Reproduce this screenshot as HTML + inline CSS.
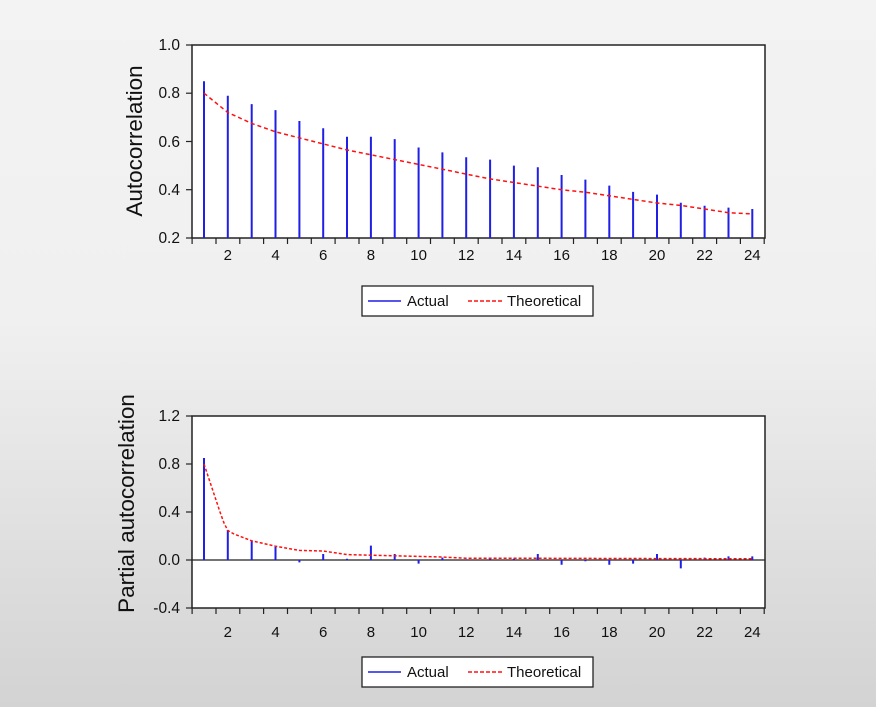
<!DOCTYPE html>
<html><head><style>
html,body{margin:0;padding:0;background:#fff;}
svg{display:block;}
text{font-family:"Liberation Sans",Arial,sans-serif;fill:#111;}
</style></head><body>
<svg width="885" height="718" viewBox="0 0 885 718" xmlns="http://www.w3.org/2000/svg">
<defs>
<linearGradient id="bg" x1="0" y1="0" x2="0" y2="1">
<stop offset="0" stop-color="#f3f3f3"/>
<stop offset="0.45" stop-color="#f0f0f0"/>
<stop offset="1" stop-color="#d3d3d3"/>
</linearGradient>
</defs>
<rect x="0" y="0" width="876" height="707" fill="url(#bg)"/>

<!-- TOP CHART -->
<rect x="192" y="45" width="573" height="193" fill="#fff" stroke="#222" stroke-width="1.5"/>
<g stroke="#222" stroke-width="1.2">
<line x1="186" y1="45" x2="192" y2="45"/><line x1="186" y1="93.2" x2="192" y2="93.2"/><line x1="186" y1="141.5" x2="192" y2="141.5"/><line x1="186" y1="189.7" x2="192" y2="189.7"/><line x1="186" y1="238" x2="192" y2="238"/>
</g>
<g font-size="15.5" text-anchor="end">
<text x="180" y="50">1.0</text><text x="180" y="98">0.8</text><text x="180" y="147">0.6</text><text x="180" y="195">0.4</text><text x="180" y="243">0.2</text>
</g>
<text transform="translate(142,141) rotate(-90)" font-size="22.5" text-anchor="middle">Autocorrelation</text>
<g stroke="#222" stroke-width="1.2">
<path d="M192.1 238v6M216 238v6M239.8 238v6M263.6 238v6M287.5 238v6M311.3 238v6M335.1 238v6M359 238v6M382.8 238v6M406.7 238v6M430.5 238v6M454.3 238v6M478.2 238v6M502 238v6M525.8 238v6M549.7 238v6M573.5 238v6M597.4 238v6M621.2 238v6M645 238v6M668.9 238v6M692.7 238v6M716.6 238v6M740.4 238v6M764.2 238v6"/>
</g>
<g font-size="15" text-anchor="middle">
<text x="227.8" y="260">2</text><text x="275.5" y="260">4</text><text x="323.2" y="260">6</text><text x="370.9" y="260">8</text><text x="418.6" y="260">10</text><text x="466.2" y="260">12</text><text x="513.9" y="260">14</text><text x="561.6" y="260">16</text><text x="609.3" y="260">18</text><text x="657" y="260">20</text><text x="704.6" y="260">22</text><text x="752.3" y="260">24</text>
</g>
<g stroke="#1f1fe6" stroke-width="2">
<path d="M204 238V81.2M227.8 238V95.7M251.7 238V104.1M275.5 238V110.1M299.4 238V121M323.2 238V128.2M347 238V136.7M370.9 238V136.7M394.7 238V139.1M418.6 238V147.5M442.4 238V152.4M466.2 238V157.2M490.1 238V159.6M513.9 238V165.6M537.8 238V167.3M561.6 238V175M585.4 238V179.6M609.3 238V185.6M633.1 238V191.9M657 238V194.6M680.8 238V202.8M704.6 238V205.7M728.5 238V207.6M752.3 238V209"/>
</g>
<polyline fill="none" stroke="#ff1010" stroke-width="1.5" stroke-dasharray="4,3" points="204,93.2 227.8,112.5 251.7,123.4 275.5,131.8 299.4,137.9 323.2,143.9 347,150 370.9,154.8 394.7,159.6 418.6,164.4 442.4,169.2 466.2,174.1 490.1,178.9 513.9,182.5 537.8,186.1 561.6,189.8 585.4,192.2 609.3,195.8 633.1,199.4 657,203 680.8,205.4 704.6,209 728.5,212.7 752.3,213.9"/>
<rect x="362" y="286" width="231" height="30" fill="#fff" stroke="#222" stroke-width="1.3"/>
<line x1="368" y1="301" x2="401" y2="301" stroke="#1f1fe6" stroke-width="1.5"/>
<text x="407" y="306" font-size="15">Actual</text>
<line x1="468" y1="301" x2="502" y2="301" stroke="#ff1010" stroke-width="1.5" stroke-dasharray="4,2"/>
<text x="507" y="306" font-size="15">Theoretical</text>

<!-- BOTTOM CHART -->
<rect x="192" y="416" width="573" height="192" fill="#fff" stroke="#222" stroke-width="1.5"/>
<line x1="192" y1="560" x2="765" y2="560" stroke="#222" stroke-width="1.3"/>
<g stroke="#222" stroke-width="1.2">
<line x1="186" y1="416" x2="192" y2="416"/><line x1="186" y1="464" x2="192" y2="464"/><line x1="186" y1="512" x2="192" y2="512"/><line x1="186" y1="560" x2="192" y2="560"/><line x1="186" y1="608" x2="192" y2="608"/>
</g>
<g font-size="15.5" text-anchor="end">
<text x="180" y="421">1.2</text><text x="180" y="469">0.8</text><text x="180" y="517">0.4</text><text x="180" y="565">0.0</text><text x="180" y="613">-0.4</text>
</g>
<text transform="translate(134,503.5) rotate(-90)" font-size="22.5" text-anchor="middle">Partial autocorrelation</text>
<g stroke="#222" stroke-width="1.2">
<path d="M192.1 608v6M216 608v6M239.8 608v6M263.6 608v6M287.5 608v6M311.3 608v6M335.1 608v6M359 608v6M382.8 608v6M406.7 608v6M430.5 608v6M454.3 608v6M478.2 608v6M502 608v6M525.8 608v6M549.7 608v6M573.5 608v6M597.4 608v6M621.2 608v6M645 608v6M668.9 608v6M692.7 608v6M716.6 608v6M740.4 608v6M764.2 608v6"/>
</g>
<g font-size="15" text-anchor="middle">
<text x="227.8" y="637">2</text><text x="275.5" y="637">4</text><text x="323.2" y="637">6</text><text x="370.9" y="637">8</text><text x="418.6" y="637">10</text><text x="466.2" y="637">12</text><text x="513.9" y="637">14</text><text x="561.6" y="637">16</text><text x="609.3" y="637">18</text><text x="657" y="637">20</text><text x="704.6" y="637">22</text><text x="752.3" y="637">24</text>
</g>
<g stroke="#1f1fe6" stroke-width="2">
<path d="M204 560V458M227.8 560V530M251.7 560V540.8M275.5 560V546.8M299.4 560V562.4M323.2 560V554M347 560V558.8M370.9 560V545.6M394.7 560V554M418.6 560V563.6M442.4 560V557.6M466.2 560V559.4M490.1 560V558.8M513.9 560V558.8M537.8 560V554M561.6 560V564.8M585.4 560V561.2M609.3 560V564.8M633.1 560V563.6M657 560V554M680.8 560V568.4M704.6 560V557.6M728.5 560V556.4M752.3 560V556.4"/>
</g>
<polyline fill="none" stroke="#ff1010" stroke-width="1.5" stroke-dasharray="3,2" points="204,464 212,488 220,512 224,523 227.8,530.5 234,534 251.7,540.8 275.5,546.2 299.4,550.4 323.2,551 347,554.6 370.9,555.2 394.7,555.8 418.6,556.4 442.4,557 466.2,558.2 490.1,558.2 513.9,558.2 537.8,558.2 561.6,558.4 585.4,558.4 609.3,558.5 633.1,558.5 657,558.6 680.8,558.6 704.6,558.7 728.5,558.8 752.3,558.8"/>
<rect x="362" y="657" width="231" height="30" fill="#fff" stroke="#222" stroke-width="1.3"/>
<line x1="368" y1="672" x2="401" y2="672" stroke="#1f1fe6" stroke-width="1.5"/>
<text x="407" y="677" font-size="15">Actual</text>
<line x1="468" y1="672" x2="502" y2="672" stroke="#ff1010" stroke-width="1.5" stroke-dasharray="4,2"/>
<text x="507" y="677" font-size="15">Theoretical</text>
</svg>
</body></html>
